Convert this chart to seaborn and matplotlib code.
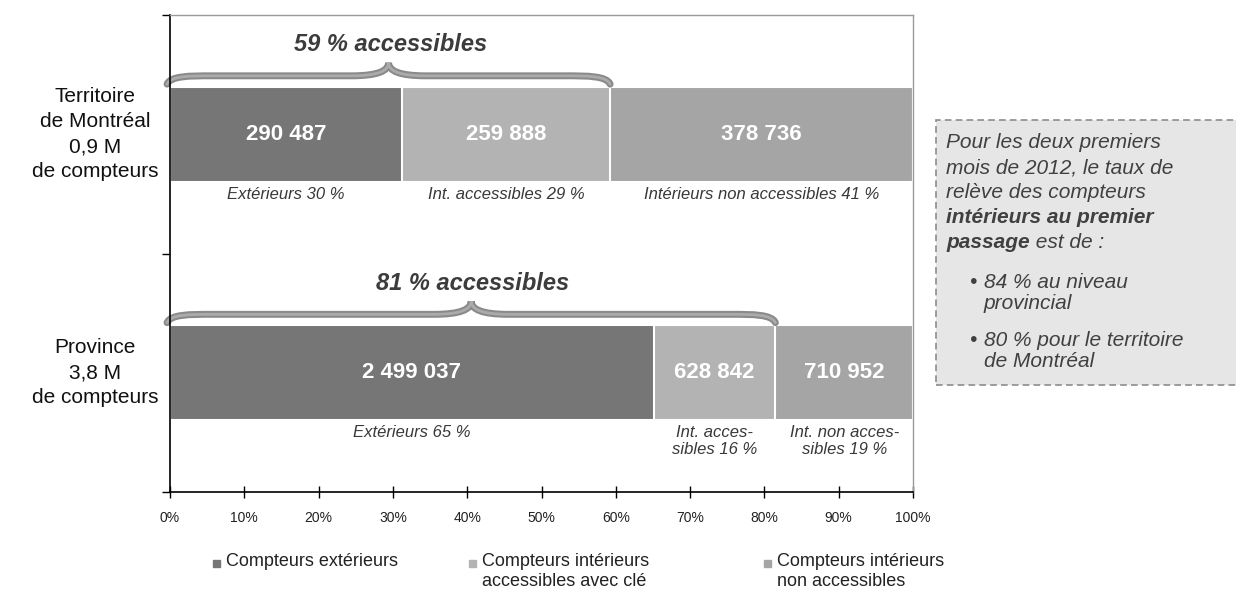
import pandas as pd
import matplotlib
matplotlib.use("Agg")
import matplotlib.pyplot as plt
import seaborn as sns
from matplotlib.path import Path
from matplotlib.patches import PathPatch, Rectangle

# --- data ---
regions = ["Montréal", "Province"]
region_labels = ["Territoire\nde Montréal\n0,9 M\nde compteurs", "Province\n3,8 M\nde compteurs"]
series = ["Compteurs extérieurs", "Compteurs intérieurs\naccessibles avec clé",
          "Compteurs intérieurs\nnon accessibles"]
exterieurs = [290487, 2499037]
int_accessibles = [259888, 628842]
int_non_accessibles = [378736, 710952]
segment_labels = [
    ["Extérieurs 30 %", "Int. accessibles 29 %", "Intérieurs non accessibles 41 %"],
    ["Extérieurs 65 %", "Int. acces-\nsibles 16 %", "Int. non acces-\nsibles 19 %"],
]
accessible_labels = ["59 % accessibles", "81 % accessibles"]
note_lines = [
    [("Pour les deux premiers", "normal")],
    [("mois de 2012, le taux de", "normal")],
    [("relève des compteurs", "normal")],
    [("intérieurs au premier", "bold")],
    [("passage", "bold"), (" est de :", "normal")],
]
note_bullets = [["84 % au niveau", "provincial"], ["80 % pour le territoire", "de Montréal"]]
colors = ["#767676", "#b3b3b3", "#a5a5a5"]

SANS = ["Liberation Sans", "DejaVu Sans"]
W, H = 1236, 596


def fx(px):
    return px / W


def fy(py):
    return 1 - py / H


def brace(ax, x0, x1, yb, ym, yt):
    xc = (x0 + x1) / 2
    verts = [(x0, yb), (x0 + 0.5, ym), (x0 + 3, ym), (x0 + 6, ym),
             (xc - 5, ym),
             (xc - 1.5, ym), (xc, ym - 0.02), (xc, yt),
             (xc, ym - 0.02), (xc + 1.5, ym), (xc + 5, ym),
             (x1 - 6, ym),
             (x1 - 3, ym), (x1 - 0.5, ym), (x1, yb)]
    codes = [Path.MOVETO, Path.CURVE4, Path.CURVE4, Path.CURVE4,
             Path.LINETO,
             Path.CURVE4, Path.CURVE4, Path.CURVE4,
             Path.CURVE4, Path.CURVE4, Path.CURVE4,
             Path.LINETO,
             Path.CURVE4, Path.CURVE4, Path.CURVE4]
    path = Path(verts, codes)
    ax.add_patch(PathPatch(path, fill=False, lw=5, edgecolor="#8a8a8a",
                           capstyle="round", clip_on=False))
    ax.add_patch(PathPatch(path, fill=False, lw=2, edgecolor="#ababab",
                           capstyle="round", clip_on=False))


def main():
    sns.set_style("white")
    plt.rcParams["font.family"] = SANS

    df = pd.DataFrame({"region": regions, "ext": exterieurs,
                       "acc": int_accessibles, "non": int_non_accessibles})
    total = df[["ext", "acc", "non"]].sum(axis=1)
    for col in ["ext", "acc", "non"]:
        df["p_" + col] = df[col] / total * 100
    df["c1"] = df["p_ext"]
    df["c2"] = df["c1"] + df["p_acc"]
    df["c3"] = df["c2"] + df["p_non"]

    fig = plt.figure(figsize=(12.36, 5.96), dpi=100)
    ax = fig.add_axes([fx(170), 1 - 492 / H, (913 - 170) / W, (492 - 15) / H])

    # stacked 100 % bars: draw cumulative layers back to front
    for col, color in zip(["c3", "c2", "c1"], colors[::-1]):
        sns.barplot(data=df, x=col, y="region", orient="h", color=color,
                    saturation=1, width=0.4, edgecolor="white", linewidth=1.5, ax=ax)

    ax.set_xlim(0, 100)
    ax.set_ylim(1.5, -0.5)
    ax.set_xlabel("")
    ax.set_ylabel("")
    ax.set_xticks(range(0, 101, 10))
    ax.set_xticklabels([f"{t}%" for t in range(0, 101, 10)], color="#222222")
    ax.set_yticks([-0.5, 0.5, 1.5])
    ax.set_yticklabels([])
    ax.tick_params(axis="x", direction="inout", length=8, width=1, color="black",
                   labelsize=10, pad=10, bottom=True)
    ax.tick_params(axis="y", direction="out", length=6, width=1, color="black", left=True)
    for side in ["left", "bottom"]:
        ax.spines[side].set_color("black")
        ax.spines[side].set_linewidth(1.2)
    for side in ["top", "right"]:
        ax.spines[side].set_color("#9a9a9a")
        ax.spines[side].set_linewidth(1)

    for i, row in df.iterrows():
        ax.text(-0.101, i, region_labels[i], transform=ax.get_yaxis_transform(),
                ha="center", va="center", fontsize=15, linespacing=1.39,
                color="#111111")
        starts = [0, row["c1"], row["c2"]]
        widths = [row["p_ext"], row["p_acc"], row["p_non"]]
        values = [row["ext"], row["acc"], row["non"]]
        for s, w, v, lab in zip(starts, widths, values, segment_labels[i]):
            ax.text(s + w / 2, i, f"{v:,}".replace(",", " "), ha="center", va="center",
                    color="white", fontweight="bold", fontsize=16)
            ax.text(s + w / 2, i + 0.22, lab, ha="center", va="top", fontsize=12,
                    style="italic", color="#383838", linespacing=1.13)
        top = i - 0.2
        brace(ax, -0.4, row["c2"], top - 0.01, top - 0.045, top - 0.10)
        ax.text(row["c2"] / 2, top - 0.175, accessible_labels[i], ha="center", va="center",
                fontsize=17, fontweight="bold", style="italic", color="#3c3c3c")

    # legend drawn by hand so the squares sit on the first line
    for lab, color, xs in zip(series, colors, [216, 472, 767]):
        fig.add_artist(Rectangle((fx(xs - 3.5), fy(566.5)), 7 / W, 7 / H,
                                 transform=fig.transFigure, color=color))
        fig.text(fx(xs + 10), fy(553), lab, ha="left", va="top", fontsize=13,
                 color="#222222", linespacing=1.23)

    # note box on the right
    fig.add_artist(Rectangle((fx(936), fy(385)), (1250 - 936) / W, (385 - 120) / H,
                             transform=fig.transFigure, facecolor="#e6e6e6",
                             edgecolor="#8c8c8c", linestyle=(0, (4, 2.5)), linewidth=1.2,
                             clip_on=False))
    renderer = fig.canvas.get_renderer()
    note_kw = dict(fontsize=15, style="italic", color="#404040", va="center", ha="left")
    for k, parts in enumerate(note_lines):
        x = 946
        y = 143 + 24.8 * k
        for txt, weight in parts:
            t = fig.text(fx(x), fy(y), txt, fontweight=weight, **note_kw)
            x = t.get_window_extent(renderer).x1
    yb = 282
    for bullet in note_bullets:
        fig.text(fx(969), fy(yb), "•", **note_kw)
        for j, line in enumerate(bullet):
            fig.text(fx(984), fy(yb + 21.5 * j), line, **note_kw)
        yb += 58

    fig.savefig("out.png", dpi=100)


if __name__ == "__main__":
    main()
